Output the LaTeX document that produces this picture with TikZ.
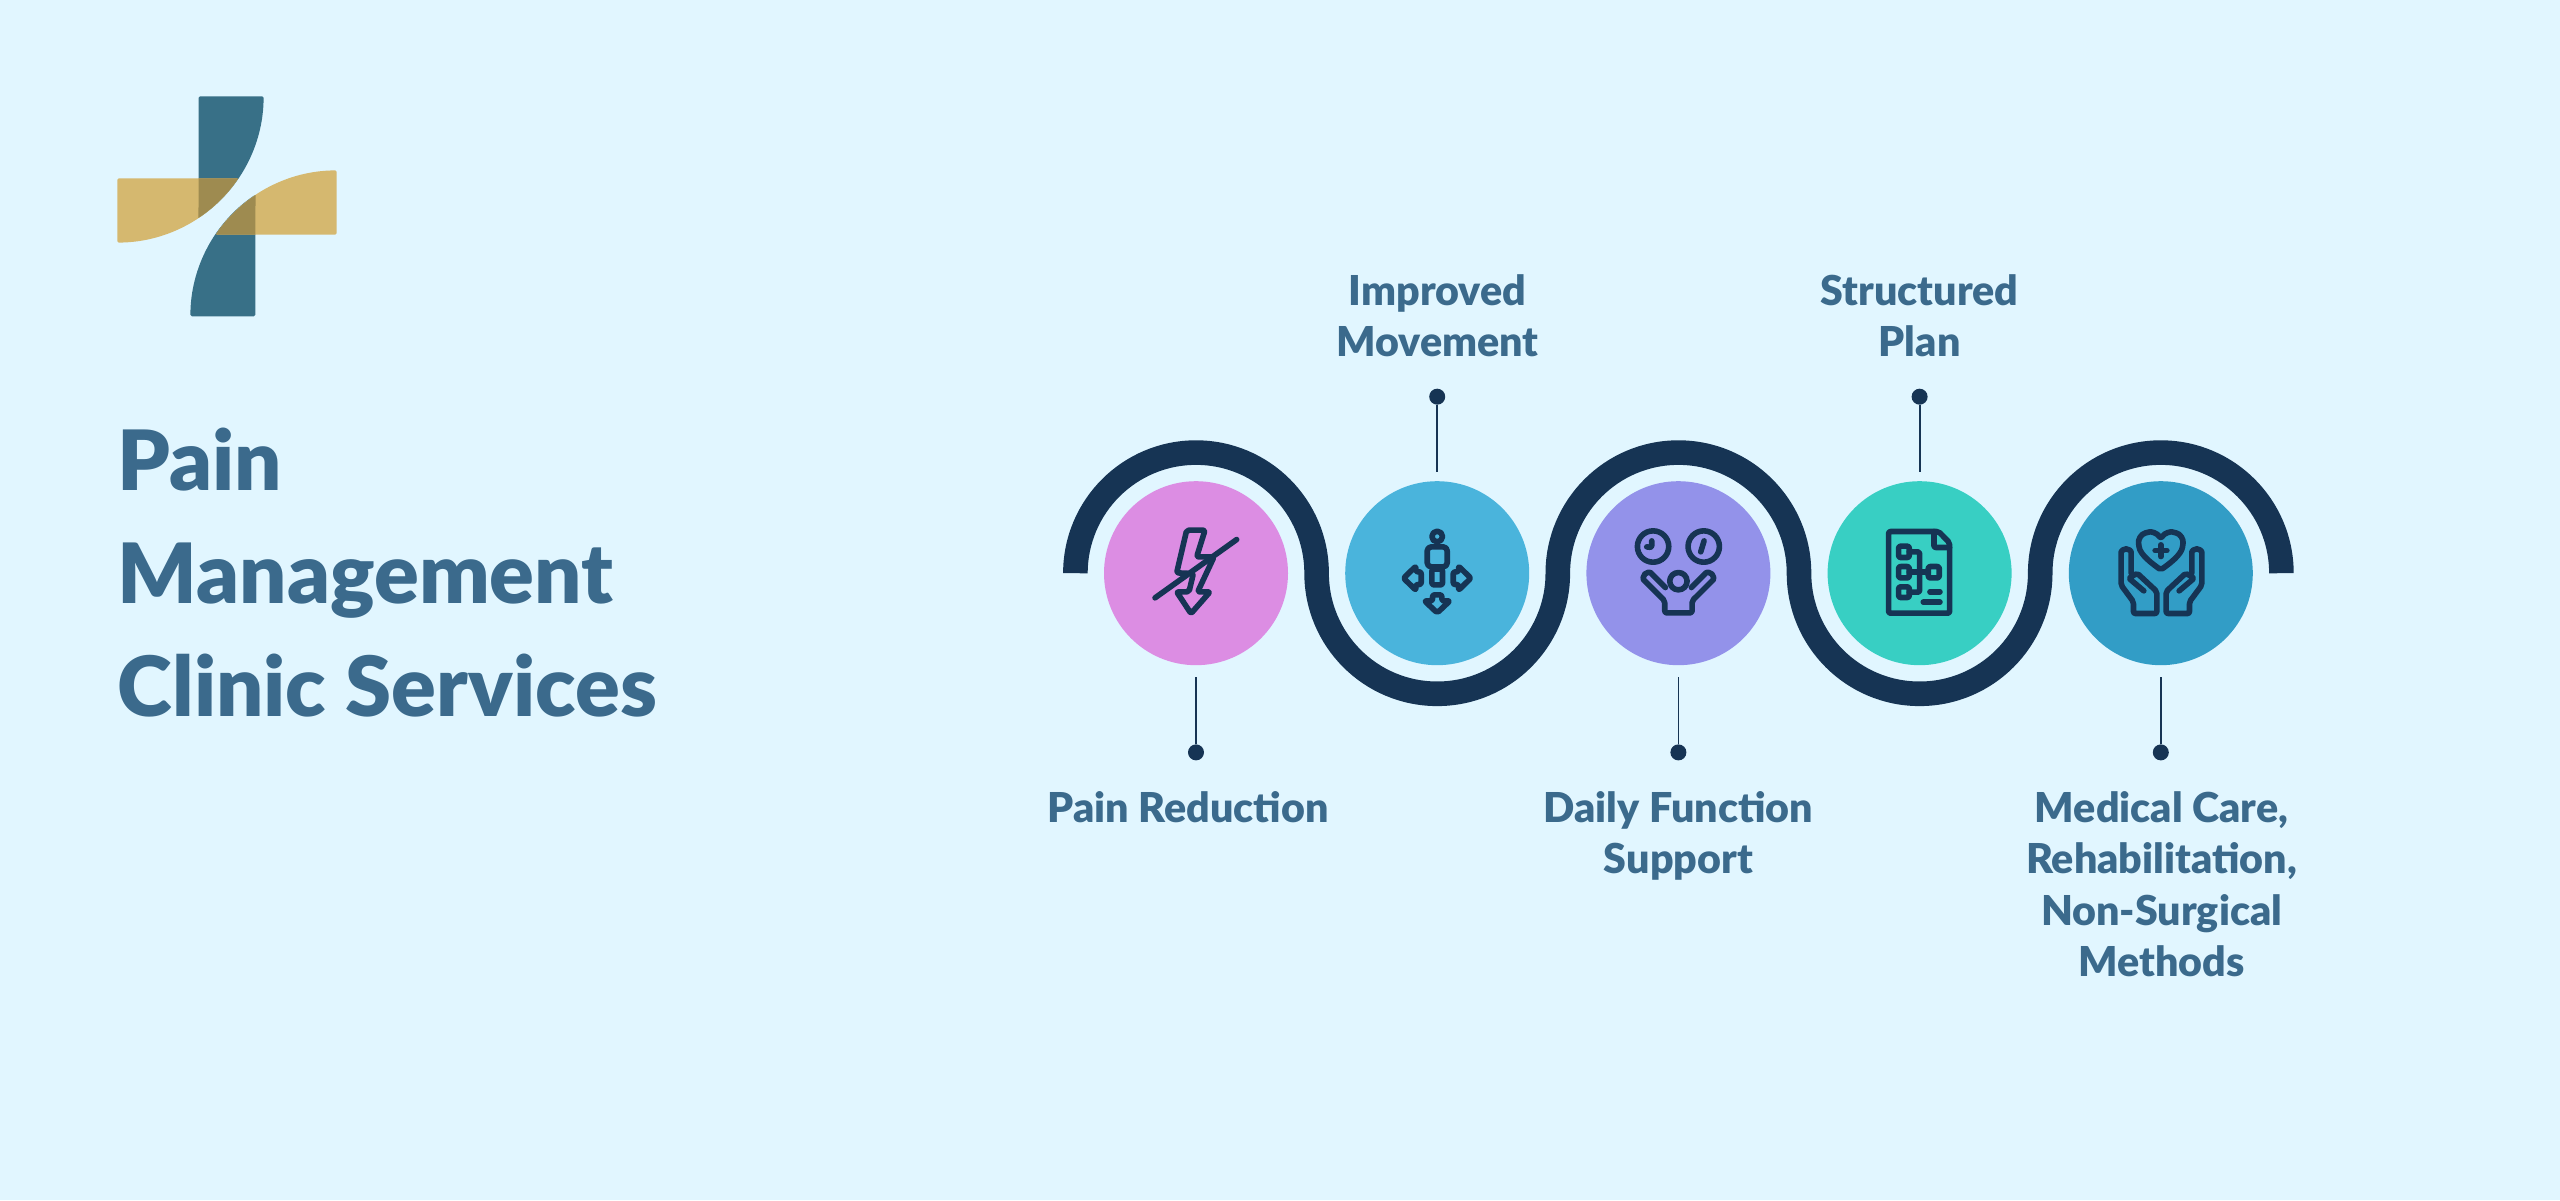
\documentclass[tikz,border=0pt]{standalone}
\usepackage{fontspec}
\setmainfont{Lato Black}
\definecolor{page}{HTML}{E1F6FF}
\definecolor{navy}{HTML}{163454}
\definecolor{slate}{HTML}{3B6A8C}
\definecolor{logoteal}{HTML}{387087}
\definecolor{logogold}{HTML}{D5B86F}
\definecolor{logomix}{HTML}{9E8B50}
\definecolor{orchid}{HTML}{DC8DE3}
\definecolor{sky}{HTML}{4AB4DC}
\definecolor{violet}{HTML}{9392EA}
\definecolor{mint}{HTML}{38CFC3}
\definecolor{ocean}{HTML}{329DC6}
\tikzset{
	service/.style={circle, inner sep=0pt, outer sep=0pt, minimum size=92pt},
	pin/.style={circle, fill=navy, inner sep=0pt, outer sep=0pt, minimum size=8pt},
	stem/.style={draw=navy, line width=.9pt},
	wave/.style={draw=navy, line width=12.3pt},
	icon/.style={draw=navy, line width=2.8pt, line join=round, line cap=round, rounded corners=1pt},
	zoomed/.style={shift={(#1)}, x=.16667pt, y=.16667pt},
	label/.style={text=slate, align=center, anchor=base, inner sep=0pt, font=\fontsize{20.6pt}{25.7pt}\selectfont},
	heading/.style={text=slate, align=left, anchor=base west, inner sep=0pt, font=\fontsize{41.6pt}{56.5pt}\selectfont},
	piece/.style={rounded corners=.75pt}
}
\begin{document}
\begin{tikzpicture}[x=.5pt, y=.5pt]
	\useasboundingbox (0, 0) rectangle (2560, 1200);
	\fill[page] (0, 0) rectangle (2560, 1200);

	\fill[logoteal, piece] (198.7, 1103.7) -- (263.6, 1103.7) arc[start angle=0, end angle=-56.3, radius=146.3] -- cycle;
	\fill[logogold, piece] (117.3, 1021.7) -- (238.4, 1021.7) arc[start angle=-34.1, end angle=-90, radius=146.3] -- cycle;
	\fill[logomix] (198.7, 1021.7) -- (238.4, 1021.7) arc[start angle=-34.1, end angle=-56.3, radius=146.3] -- cycle;
	\fill[logoteal, piece] (255.3, 883.7) -- (190.4, 883.7) arc[start angle=180, end angle=123.7, radius=146.3] -- cycle;
	\fill[logogold, piece] (336.7, 965.3) -- (215.6, 965.3) arc[start angle=145.9, end angle=90, radius=146.3] -- cycle;
	\fill[logomix] (255.3, 965.3) -- (215.6, 965.3) arc[start angle=145.9, end angle=123.7, radius=146.3] -- cycle;

	\node[heading] (title) at (117.5, 483) {Pain\\Management\\Clinic Services};

	\draw[wave] (1075.4, 626.8) arc[start angle=180, end angle=0, radius=120.6]
		arc[start angle=180, end angle=360, radius=120.6]
		arc[start angle=180, end angle=0, radius=120.6]
		arc[start angle=180, end angle=360, radius=120.6]
		arc[start angle=180, end angle=0, radius=120.6];

	\node[service, fill=orchid] (pain) at (1196, 626.8) {};
	\node[service, fill=sky] (move) at (1437.2, 626.8) {};
	\node[service, fill=violet] (daily) at (1678.4, 626.8) {};
	\node[service, fill=mint] (plan) at (1919.6, 626.8) {};
	\node[service, fill=ocean] (care) at (2160.8, 626.8) {};

	\node[pin] (painpin) at (1196, 447.6) {};
	\node[pin] (movepin) at (1437.2, 803.3) {};
	\node[pin] (dailypin) at (1678.4, 447.6) {};
	\node[pin] (planpin) at (1919.6, 803.3) {};
	\node[pin] (carepin) at (2160.8, 447.6) {};

	\coordinate (painend) at (1196, 523);
	\coordinate (moveend) at (1437.2, 728.3);
	\coordinate (dailyend) at (1678.4, 523);
	\coordinate (planend) at (1919.6, 728.3);
	\coordinate (careend) at (2160.8, 523);

	\draw[stem] (painpin) -- (painend);
	\draw[stem] (movepin) -- (moveend);
	\draw[stem] (dailypin) -- (dailyend);
	\draw[stem] (planpin) -- (planend);
	\draw[stem] (carepin) -- (careend);

	\node[label] (painlabel) at (1188.3, 377.5) {Pain Reduction};
	\node[label] (movelabel) at (1437.5, 843) {Improved\\Movement};
	\node[label] (dailylabel) at (1678.4, 326.2) {Daily Function\\Support};
	\node[label] (planlabel) at (1919.6, 843) {Structured\\Plan};
	\node[label] (carelabel) at (2161.5, 223.5) {Medical Care,\\Rehabilitation,\\Non-Surgical\\Methods};

	\begin{scope}[zoomed=pain.center]
		\draw[icon] (-28, 129) -- (27, 129) -- (2, 49) -- (54, 49) -- (5, -56) -- (42, -56) -- (-15, -121) -- (-58, -56) -- (-21, -56) -- (-8, -1) -- (-58, 1) -- cycle;
		\draw[icon] (-123, -74) -- (122, 101);
	\end{scope}

	\begin{scope}[zoomed=move.center]
		\draw[icon] (0, 110) circle[radius=16];
		\draw[icon, rounded corners=2pt] (-30, 19) rectangle (30, 79);
		\draw[icon] (-16, 12) rectangle (16, -35);
		\draw[icon] (-101, -15) -- (-64, 21) -- (-64, 4) -- (-48, 4) -- (-48, -34) -- (-64, -34) -- (-64, -51) -- cycle;
		\draw[icon] (101, -15) -- (64, 21) -- (64, 4) -- (48, 4) -- (48, -34) -- (64, -34) -- (64, -51) -- cycle;
		\draw[icon] (0, -119) -- (-38, -83) -- (-14, -83) -- (-14, -65) -- (14, -65) -- (14, -83) -- (38, -83) -- cycle;
	\end{scope}

	\begin{scope}[zoomed=daily.center]
		\draw[icon] (-76, 80) circle[radius=47];
		\draw[icon] (76, 80) circle[radius=47];
		\draw[icon] (-80, 97) -- (-80, 77) -- (-95, 79);
		\draw[icon] (77, 97) -- (67, 64);
		\draw[icon] (0, -24) circle[radius=26];
		\draw[icon] (-39, -43) -- (-79.4, -2.4) arc[start angle=45, end angle=225, radius=15] -- (-41, -83) -- (-41, -119) -- (41, -119) -- (41, -83) -- (100.6, -23.6) arc[start angle=-45, end angle=135, radius=15] -- (39, -43);
	\end{scope}

	\begin{scope}[zoomed=plan.center]
		\draw[icon] (-93, 125) -- (57, 125) -- (90, 91) -- (90, -120) -- (-93, -120) -- cycle;
		\draw[icon] (43, 125) -- (43, 77) -- (90, 77);
		\draw[icon] (-63, 81) rectangle (-31, 47);
		\draw[icon] (-63, 20) rectangle (-31, -14);
		\draw[icon] (-63, -41) rectangle (-31, -73);
		\draw[icon] (26, 20) rectangle (59, -14);
		\draw[icon] (-31, 64) -- (0, 64) -- (0, -57) -- (-31, -57);
		\draw[icon] (-31, 3) -- (26, 3);
		\draw[icon] (31, -56) -- (61, -56);
		\draw[icon] (11, -87) -- (61, -87);
	\end{scope}

	\begin{scope}[zoomed=care.center]
		\draw[icon] (0, 104) .. controls (12, 122) and (30, 125) .. (40, 122) .. controls (60, 118) and (68, 100) .. (66, 85) .. controls (62, 55) and (25, 28) .. (0, 10) .. controls (-25, 28) and (-62, 55) .. (-66, 85) .. controls (-68, 100) and (-60, 118) .. (-40, 122) .. controls (-30, 125) and (-12, 122) .. cycle;
		\draw[icon] (-17, 68) -- (18, 68);
		\draw[icon] (0, 85) -- (0, 50);
		\draw[icon] (93, 0) -- (93, 58) arc[start angle=180, end angle=0, radius=15] -- (123, -36) -- (86, -86) -- (86, -121) -- (16, -121) -- (16, -55) -- (75, 0) -- (100, -15) -- (55, -53);
		\draw[icon] (-89, 0) -- (-89, 58) arc[start angle=0, end angle=180, radius=15] -- (-119, -36) -- (-82, -86) -- (-82, -121) -- (-12, -121) -- (-12, -55) -- (-71, 0) -- (-96, -15) -- (-51, -53);
	\end{scope}
\end{tikzpicture}
\end{document}
